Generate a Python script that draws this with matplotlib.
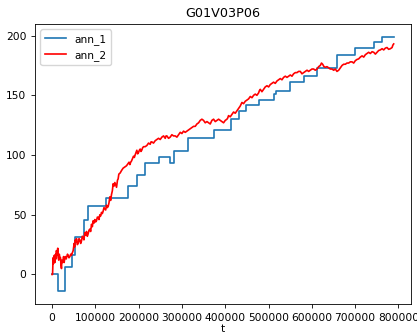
import numpy as np
import matplotlib
matplotlib.use('Agg')
import matplotlib.pyplot as plt

#step annotation (ann_1)
t_ann1 = [0, 13000, 30500, 45500, 53200, 72800, 83600, 125000, 176000, 197200, 215000,
          248000, 271200, 282000, 315000, 373000, 413800, 430700, 447800, 477000, 511600,
          518000, 548600, 581000, 612000, 658000, 700500, 742800, 762000, 790000]
v_ann1 = [0, -14, 6, 16, 31, 46, 57, 64, 74, 83, 93,
          98, 93, 103, 114, 121, 130, 137, 142, 146, 151,
          154, 161, 166, 173, 184, 190, 195, 199, 199]

t_ann2 = [0, 1000, 2300, 3000, 4000, 5000, 6200, 7000, 8000, 9000, 10000, 11000, 12300,
          13000, 14000, 15400, 16500, 17500, 19300, 20500, 21600, 22500, 23500, 25400,
          26500, 27700, 29000, 30800, 32500, 34000, 35500, 37000, 39000, 41000, 43000,
          44700, 46500, 48600, 50900, 52000, 53500, 55000, 56300, 58200, 60100, 62000,
          63900, 66000, 67800, 69800, 71700, 73500, 75500, 77500, 79400, 81300, 83200,
          85100, 87100, 89000, 91000, 92900, 94800, 96700, 98700, 100500, 102500, 104500,
          106400, 108300, 110200, 112100, 114100, 116000, 117900, 119800, 121800, 123700,
          125600, 127500, 129500, 131400, 133300, 135200, 137200, 139100, 141000, 143000,
          144900, 146800, 148800, 151000, 152500, 154100, 157200, 160300, 164000, 168000,
          171800, 175700, 177700, 179600, 181500, 183400, 185700, 188000, 190000, 191700,
          193700, 195700, 197600, 199500, 201500, 203500, 205200, 207000, 209000, 211200,
          215000, 218900, 222700, 226600, 228500, 230400, 234200, 238100, 242000, 245800,
          249700, 253600, 257400, 261300, 263200, 265200, 269000, 272800, 276600, 280500,
          284400, 288300, 292100, 296000, 299800, 303600, 307500, 311400, 315200, 319100,
          322900, 326700, 330600, 334500, 338400, 342200, 346000, 349800, 353700, 357700,
          361500, 365300, 369100, 373000, 376900, 380800, 384600, 388400, 392300, 396100,
          400000, 403900, 405700, 407600, 411500, 415400, 419200, 423100, 426900, 430700,
          434600, 438500, 442300, 446200, 450000, 453900, 457800, 461700, 465500, 469300,
          473100, 477000, 479000, 480900, 484700, 488500, 492400, 496400, 500200, 504000,
          507800, 511600, 515500, 519500, 523300, 527100, 531000, 534800, 538700, 542600,
          546400, 550300, 554100, 557900, 561800, 565700, 569500, 573400, 577200, 581000,
          584900, 588900, 592700, 596500, 600300, 604100, 608000, 612000, 615800, 619600,
          622300, 625000, 628100, 631200, 635000, 638800, 642700, 646700, 650500, 654300,
          658100, 662000, 664000, 665900, 667800, 669800, 673600, 677400, 681200, 685000,
          689000, 692900, 696700, 700500, 704300, 708200, 712100, 716100, 719900, 723700,
          727500, 731300, 735200, 739200, 743000, 746800, 750600, 754400, 758300, 762300,
          766100, 769900, 773700, 777500, 781400, 785400, 787200, 789100]
v_ann2 = [0, 0, 14, 9, 12, 16, 10, 15, 17, 13, 20, 16, 19,
          22, 14, 12, 17, 15, 14, 8, 5, 12, 10, 12,
          15, 10, 13, 15, 13, 15, 17, 16, 14, 15, 17,
          16, 18, 20, 26, 23, 29, 27, 30, 25, 26, 30,
          29, 26, 28, 32, 31, 29, 35, 33, 36, 32, 34,
          37, 38, 36, 42, 40, 45, 43, 46, 44, 45, 48,
          48, 46, 50, 49, 52, 51, 53, 56, 55, 54,
          58, 56, 57, 60, 65, 62, 67, 70, 76, 74,
          77, 75, 73, 79, 80, 84, 85, 87, 89, 90,
          91, 93, 94, 92, 94, 95, 97, 99, 98, 100,
          102, 104, 101, 102, 104, 105, 103, 104, 106, 107,
          107, 108, 110, 109, 111, 111, 110, 112, 113, 114,
          113, 115, 116, 114, 116, 116, 114, 115, 117, 116,
          116, 115, 117, 119, 118, 120, 119, 120, 121, 122,
          123, 124, 124, 126, 127, 129, 130, 129, 127, 128,
          127, 126, 129, 130, 128, 129, 130, 129, 128, 127,
          129, 130, 131, 133, 132, 134, 136, 135, 137, 139,
          141, 144, 143, 145, 146, 147, 149, 148, 150, 151,
          150, 152, 154, 155, 153, 155, 157, 158, 157, 159,
          160, 161, 160, 162, 163, 164, 163, 165, 166, 165,
          166, 167, 166, 168, 169, 169, 170, 170, 168, 169,
          170, 171, 170, 171, 172, 172, 171, 172, 174, 175,
          177, 176, 174, 173.5, 174, 173, 172, 172, 171, 172,
          170, 171, 172, 173, 174, 175, 176, 176, 177, 177,
          178, 178, 177, 179, 180, 180.5, 182, 183, 182, 184,
          185, 186, 185, 186.5, 186, 184.5, 186, 187.5, 188, 189,
          188, 189.5, 190, 188.5, 189, 190, 192, 193]

plt.rcParams['font.size'] = 7.7

fig = plt.figure(figsize=(4.17, 3.34), dpi=100)
ax = fig.add_axes([0.084, 0.09, 0.902, 0.838])

ax.plot(t_ann1, v_ann1, drawstyle='steps-post', color='tab:blue', lw=1.2, label='ann_1')
ax.plot(t_ann2, v_ann2, color='red', lw=1.2, label='ann_2')

ax.tick_params(length=2.8, width=0.6)
for s in ax.spines.values():
    s.set_linewidth(0.6)

ax.set_xlabel('t', labelpad=1)
ax.set_title('G01V03P06', fontsize=9.2, pad=5)
ax.legend(loc='upper left')

plt.savefig('out.png', dpi=100)
